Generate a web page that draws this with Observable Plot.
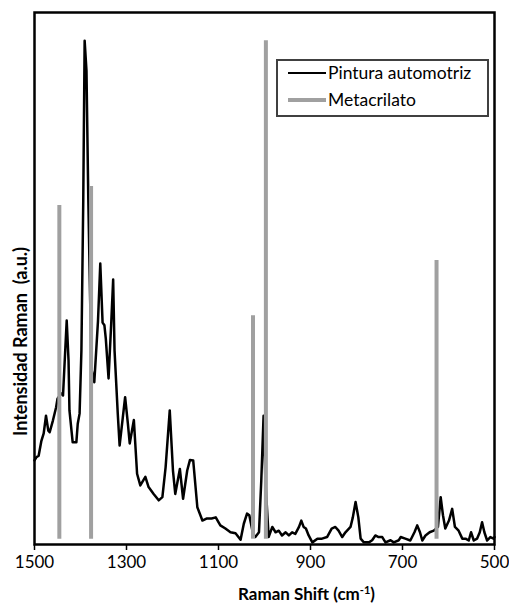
<!DOCTYPE html>
<html>
<head>
<meta charset="utf-8">
<script src="https://cdn.jsdelivr.net/npm/d3@7"></script>
<script src="https://cdn.jsdelivr.net/npm/@observablehq/plot@0.6"></script>
<style>
  html, body { margin: 0; padding: 0; background: white; }
</style>
</head>
<body>
<div id="chart"></div>
<script>
// Raman shift (cm-1) of the "Pintura automotriz" spectrum
const shift = [
  1500,1496,1491,1485,1480,1475,1470,1467,1460,1453,
  1450,1442,1438,1430,1426,1424,1417,1409,1406,1402,
  1398,1394,1391,1387,1383,1379,1376,1370,1362,1357,
  1352,1348,1345,1339,1333,1329,1326,1319,1315,1308,
  1303,1297,1293,1284,1277,1270,1259,1252,1241,1230,
  1222,1215,1206,1199,1194,1184,1177,1168,1162,1155,
  1146,1135,1125,1115,1106,1096,1085,1074,1063,1052,
  1045,1038,1033,1025,1020,1012,1007,1002,998,991,
  983,976,969,962,954,947,940,933,925,920,
  915,910,904,896,885,875,864,854,846,839,
  831,824,813,808,802,796,791,784,773,766,
  759,752,744,737,726,719,708,704,694,683,
  674,668,662,657,650,641,632,623,617,612,
  607,599,592,586,578,570,563,556,551,545,
  538,532,527,522,516,509,502,500
];
// Intensity (a.u.) of the spectrum
const intensity = [
  15.8,16.4,16.7,19.5,20.9,24.2,21.4,21.1,23.3,25.8,
  27.4,28.4,28.0,42.1,34.6,25.2,19.2,19.2,22.7,24.6,
  36.5,64.7,94.7,89.1,64.7,45.9,32.9,30.5,42.0,52.8,
  41.7,41.2,38.7,31.2,42.0,49.8,36.5,24.6,18.6,23.9,
  27.7,22.7,19.0,23.4,13.3,11.1,12.7,10.8,9.5,8.3,
  8.9,14.5,25.2,13.9,9.5,14.2,8.6,13.9,15.9,15.8,
  7.0,4.5,4.9,4.9,5.1,3.6,3.0,2.3,2.1,0.9,
  3.9,5.8,5.5,2.0,1.4,2.3,12.0,24.2,12.0,1.4,
  3.3,2.3,2.6,1.7,2.3,1.7,2.3,2.0,3.3,4.5,
  3.3,3.0,1.7,0.4,1.1,1.1,1.4,3.0,3.3,2.6,
  1.4,2.3,3.3,5.1,8.0,5.1,1.1,0.4,0.4,0.8,
  1.7,1.4,1.4,0.4,0.8,0.4,0.8,1.4,1.1,0.75,
  2.3,3.6,2.3,0.75,1.7,2.3,2.6,3.3,8.9,5.5,
  3.0,4.5,6.7,3.3,2.6,1.1,1.1,0.75,2.3,0.75,
  1.1,2.3,4.2,2.3,0.75,1.4,1.1,1.4
];
// Metacrilato reference bands
const barShift = [1446, 1377, 1025, 997, 626];
const barHeight = [63.7, 67.3, 43.0, 94.7, 53.4];
const barBase = 1;
// Axis ticks
const xTicks = [1500, 1300, 1100, 900, 700, 500];
const seriesNames = ["Pintura automotriz", "Metacrilato"];
const xTitle = "Raman Shift (cm-1)";
const yTitle = "Intensidad Raman\u00a0 (a.u.)";

const spectrum = shift.map((x, i) => ({x, y: intensity[i]}));
const bars = barShift.map((x, i) => ({x, h: barHeight[i]}));

const font = "Lato, 'Open Sans', sans-serif";
const chart = Plot.plot({
  width: 509,
  height: 604,
  marginLeft: 34,
  marginRight: 15,
  marginTop: 12,
  marginBottom: 60,
  style: {fontFamily: font, fontSize: "17px", background: "white", color: "black"},
  x: {domain: [1500, 500]},
  y: {domain: [0, 100], axis: null},
  marks: [
    Plot.line(spectrum, {x: "x", y: "y", stroke: "black", strokeWidth: 2.5, strokeLinejoin: "round"}),
    Plot.ruleX(bars, {x: "x", y1: barBase, y2: "h", stroke: "#a0a0a0", strokeWidth: 4}),
    Plot.frame({stroke: "black", strokeWidth: 2.5}),
    Plot.axisX({ticks: xTicks, tickSize: 6, tickPadding: 5, fontSize: 17, label: null, tickFormat: d => String(d), stroke: "black", strokeWidth: 1.5}),
    Plot.text([xTitle], {text: d => d, frameAnchor: "bottom", textAnchor: "middle", lineAnchor: "middle", dx: 42, dy: 50, fontWeight: "bold", fontSize: 17}),
    Plot.text([yTitle], {text: d => d, frameAnchor: "left", rotate: -90, textAnchor: "middle", lineAnchor: "middle", dx: -13, dy: 63, fontWeight: "bold", fontSize: 18})
  ]
});

// superscript in x title
d3.select(chart).selectAll("text").filter(function() { return this.textContent === xTitle; })
  .each(function() {
    const t = d3.select(this);
    t.text(null);
    t.append("tspan").text("Raman Shift (cm");
    t.append("tspan").attr("baseline-shift", "super").attr("font-size", 11).text("-1");
    t.append("tspan").text(")");
  });

// legend
const svg = d3.select(chart);
const lg = svg.append("g").attr("font-family", font).attr("font-size", 17.5).attr("text-anchor", "start");
lg.append("rect").attr("x", 277).attr("y", 60).attr("width", 211).attr("height", 56)
  .attr("fill", "white").attr("stroke", "#404040").attr("stroke-width", 2);
const legendStyles = [{stroke: "black", w: 2}, {stroke: "#a0a0a0", w: 4}];
seriesNames.forEach((name, i) => {
  const y = 73 + i * 27;
  lg.append("line").attr("x1", 288).attr("x2", 326).attr("y1", y).attr("y2", y)
    .attr("stroke", legendStyles[i].stroke).attr("stroke-width", legendStyles[i].w);
  lg.append("text").attr("x", 328).attr("y", y).attr("dy", "0.35em")
    .attr("text-anchor", "start").attr("fill", "black").text(name);
});

document.getElementById("chart").appendChild(chart);
</script>
</body>
</html>
